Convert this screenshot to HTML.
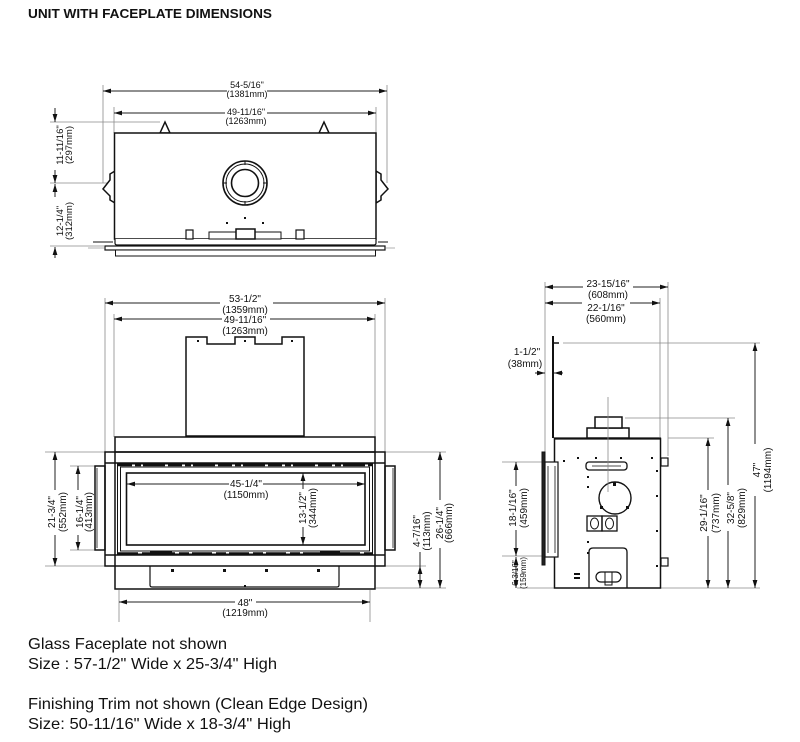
<!DOCTYPE html>
<html><head><meta charset="utf-8">
<style>
html,body{margin:0;padding:0;background:#fff;}
svg{display:block;}
text{font-family:"Liberation Sans",Arial,sans-serif;fill:#111;}
</style></head><body>
<svg width="800" height="742" viewBox="0 0 800 742" xmlns="http://www.w3.org/2000/svg">
<defs>
<marker id="a" markerUnits="userSpaceOnUse" markerWidth="8" markerHeight="6" refX="8" refY="3" orient="auto"><path d="M0,0.6 L8,3 L0,5.4z" fill="#111"/></marker>
</defs>
<rect width="800" height="742" fill="#fff"/>

<text x="28" y="18" font-size="13" font-weight="bold" textLength="244" lengthAdjust="spacingAndGlyphs">UNIT WITH FACEPLATE DIMENSIONS</text>

<!-- ================= TOP VIEW ================= -->
<g stroke="#8a8a8a" stroke-width="0.8" fill="none">
<path d="M103,85 V183 M387,85 V183 M114,107 V133 M376,107 V133 M50,122 H160 M50,183 H240 M50,246 H104"/>
</g>
<g stroke="#222" stroke-width="1" fill="none" marker-end="url(#a)">
<path d="M227,91 H103"/><path d="M267,91 H387"/>
<path d="M225,113 H114"/><path d="M267,113 H376"/>
<path d="M55,108 V122"/><path d="M55,170 V183"/><path d="M55,197 V184"/><path d="M55,258 V247"/>
</g>
<g font-size="9" text-anchor="middle">
<text x="247" y="88">54-5/16"</text>
<text x="247" y="97">(1381mm)</text>
<text x="246" y="115">49-11/16"</text>
<text x="246" y="124">(1263mm)</text>
</g>
<g font-size="9.5" text-anchor="middle">
<text transform="translate(63,145) rotate(-90)">11-11/16"</text>
<text transform="translate(72,145) rotate(-90)">(297mm)</text>
<text transform="translate(63,221) rotate(-90)">12-1/4"</text>
<text transform="translate(72,221) rotate(-90)">(312mm)</text>
</g>
<g stroke="#111" fill="#fff" stroke-width="1.5">
<polygon points="160,133 165,122 170,133"/>
<polygon points="319,133 324,122 329,133"/>
<polygon points="115,171 110,174 110,180 103,189 110,196 110,200 115,203"/>
<polygon points="376,171 381,174 381,180 388,189 381,196 381,200 376,203"/>
<rect x="114.5" y="133" width="261.5" height="106"/>
<path d="M115,239 V243 Q115,245 117,245 H374 Q376,245 376,243 V239" stroke-width="1.2"/>
<rect x="105" y="246" width="280" height="4" stroke-width="1.2"/>
<rect x="115.5" y="250" width="260" height="6" stroke-width="1"/>
<circle cx="245" cy="183" r="22" stroke-width="1.6"/>
<circle cx="245" cy="183" r="19" stroke-width="1"/>
<circle cx="245" cy="183" r="13.5" stroke-width="1.6"/>
<rect x="186" y="230" width="7" height="9" stroke-width="1.2"/>
<rect x="296" y="230" width="8" height="9" stroke-width="1.2"/>
<rect x="209" y="232" width="72" height="7" stroke-width="1"/>
<rect x="236" y="229" width="19" height="10" stroke-width="1.5"/>
</g>
<g stroke="#111" stroke-width="1">
<path d="M93,242 H113 M378,242 H388"/>
<path d="M245,161 V165 M245,201 V205 M223,183 H227 M263,183 H267"/>
</g>
<path d="M88,248 H104 M386,248 H395" stroke="#999" stroke-width="0.8"/>
<g fill="#111">
<rect x="226" y="222" width="2" height="2"/><rect x="244" y="217" width="2" height="2"/><rect x="262" y="222" width="2" height="2"/>
</g>

<!-- ================= FRONT VIEW ================= -->
<g stroke="#8a8a8a" stroke-width="0.8" fill="none">
<path d="M105,298 V452 M114,314 V437 M375,314 V437 M385,298 V452 M45,452 H105 M45,566 H105 M70,466 H95 M70,550 H95 M385,452 H446 M376,588 H446 M385,566 H426 M119,590 V622 M370,590 V622"/>
</g>
<g stroke="#222" stroke-width="1" fill="none" marker-end="url(#a)">
<path d="M220,303 H105"/><path d="M273,303 H385"/>
<path d="M222,319 H114"/><path d="M270,319 H375"/>
<path d="M229,484 H127"/><path d="M263,484 H365"/>
<path d="M303,489 V473"/><path d="M303,527 V545"/>
<path d="M235,602 H119"/><path d="M256,602 H370"/>
<path d="M55,490 V452"/><path d="M55,535 V566"/>
<path d="M78,490 V466"/><path d="M78,535 V550"/>
<path d="M440,500 V452"/><path d="M440,548 V588"/>
<path d="M420,578 V566"/><path d="M420,576 V588"/>
</g>
<path d="M420,552 V566" stroke="#222" stroke-width="1"/>
<g font-size="10" text-anchor="middle">
<text x="245" y="302">53-1/2"</text>
<text x="245" y="313">(1359mm)</text>
<text x="245" y="323">49-11/16"</text>
<text x="245" y="334">(1263mm)</text>
<text x="246" y="487">45-1/4"</text>
<text x="246" y="498">(1150mm)</text>
<text x="245" y="606">48"</text>
<text x="245" y="616">(1219mm)</text>
<text transform="translate(306,508) rotate(-90)">13-1/2"</text>
<text transform="translate(316,508) rotate(-90)">(344mm)</text>
<text transform="translate(55,512) rotate(-90)">21-3/4"</text>
<text transform="translate(66,512) rotate(-90)">(552mm)</text>
<text transform="translate(83,512) rotate(-90)">16-1/4"</text>
<text transform="translate(92,512) rotate(-90)">(413mm)</text>
<text transform="translate(443,523) rotate(-90)">26-1/4"</text>
<text transform="translate(452,523) rotate(-90)">(666mm)</text>
<text transform="translate(420,531) rotate(-90)">4-7/16"</text>
<text transform="translate(430,531) rotate(-90)">(113mm)</text>
</g>
<g stroke="#111" fill="none" stroke-width="1.5">
<polygon points="186,337 207,337 207,344 235,344 235,337 255,337 255,344 282,344 282,337 304,337 304,436 186,436" fill="#fff"/>
<rect x="115" y="437" width="260" height="15"/>
<rect x="105" y="452" width="280" height="114"/>
<path d="M105,463 H385 M105,555 H385 M115,452 V566 M375,452 V566"/>
<rect x="117.5" y="464" width="255" height="90" stroke-width="1"/>
<rect x="120.5" y="467" width="249" height="84" stroke-width="1"/>
<rect x="126.5" y="473" width="238.5" height="72" stroke-width="1.6"/>
<rect x="95" y="466" width="10" height="84"/>
<rect x="385" y="466" width="10" height="84"/>
<path d="M115,566 V589 H375 V566"/>
<path d="M150,566 V585 Q150,587 152,587 H337 Q339,587 339,585 V566" stroke-width="1.2"/>
</g>
<path d="M118,465 H372" stroke="#111" stroke-width="2.5" stroke-dasharray="14 3 6 2 22 3"/>
<path d="M118,553 H372" stroke="#111" stroke-width="1.5" stroke-dasharray="20 4 10 3"/>
<path d="M97,468 V548 M393,468 V548" stroke="#111" stroke-width="0.8"/>
<path d="M150,552 H172 M320,552 H340" stroke="#111" stroke-width="3"/>
<g fill="#111">
<rect x="197" y="340" width="2" height="2"/><rect x="244" y="340" width="2" height="2"/><rect x="291" y="340" width="2" height="2"/>
<rect x="171" y="569" width="3" height="3"/><rect x="223" y="569" width="3" height="3"/><rect x="265" y="569" width="3" height="3"/><rect x="317" y="569" width="3" height="3"/>
<rect x="244" y="585" width="2" height="2"/>
</g>

<!-- ================= SIDE VIEW ================= -->
<g stroke="#8a8a8a" stroke-width="0.8" fill="none">
<path d="M545,282 V452 M668,282 V456 M660,298 V437 M502,462 H545 M502,556 H545 M517,588 H760 M563,343 H760 M625,418 H735 M668,438 H714"/>
</g>
<g stroke="#222" stroke-width="1" fill="none" marker-end="url(#a)">
<path d="M583,287 H545"/><path d="M633,287 H668"/>
<path d="M582,303 H545"/><path d="M630,303 H660"/>
<path d="M535,373 H545"/><path d="M563,373 H554"/>
<path d="M755,444 V343"/><path d="M755,496 V588"/>
<path d="M728,485 V418"/><path d="M728,531 V588"/>
<path d="M708,490 V438"/><path d="M708,536 V588"/>
<path d="M516,486 V462"/><path d="M516,530 V556"/>
<path d="M516,572 V557"/><path d="M516,572 V588"/>
</g>
<g font-size="10" text-anchor="middle">
<text x="608" y="287">23-15/16"</text>
<text x="608" y="298">(608mm)</text>
<text x="606" y="311">22-1/16"</text>
<text x="606" y="322">(560mm)</text>
<text x="527" y="355">1-1/2"</text>
<text x="525" y="367">(38mm)</text>
<text transform="translate(760,470) rotate(-90)">47"</text>
<text transform="translate(771,470) rotate(-90)">(1194mm)</text>
<text transform="translate(734,508) rotate(-90)">32-5/8"</text>
<text transform="translate(745,508) rotate(-90)">(829mm)</text>
<text transform="translate(707,513) rotate(-90)">29-1/16"</text>
<text transform="translate(719,513) rotate(-90)">(737mm)</text>
<text transform="translate(516,508) rotate(-90)">18-1/16"</text>
<text transform="translate(527,508) rotate(-90)">(459mm)</text>
</g>
<g font-size="8" text-anchor="middle">
<text transform="translate(518,573) rotate(-90)">6-3/16"</text>
<text transform="translate(526,573) rotate(-90)">(159mm)</text>
</g>
<g stroke="#111" fill="none" stroke-width="1.5">
<path d="M553,336 V438" stroke-width="2"/>
<path d="M553,343 H559"/>
<rect x="554.5" y="438.5" width="106" height="149.5" fill="#fff"/>
<path d="M554,438.5 H661" stroke-width="2.2"/>
<rect x="587" y="428" width="42" height="10" fill="#fff"/>
<rect x="595" y="417" width="27" height="11" fill="#fff"/>
<rect x="542" y="452" width="3" height="113" fill="#222" stroke-width="1"/>
<rect x="545" y="462" width="13" height="95" stroke-width="1.2" fill="#fff"/>
<path d="M548,466 V553 M555,466 V553" stroke-width="0.8"/>
<rect x="661" y="458" width="7" height="8" stroke-width="1.2"/>
<rect x="661" y="558" width="7" height="8" stroke-width="1.2"/>
<rect x="586" y="462" width="41" height="8" rx="3" stroke-width="1.3"/>
<path d="M592,466 H621" stroke-width="0.8"/>
<circle cx="615" cy="498" r="16" stroke-width="1.4"/>
<rect x="587" y="516" width="15" height="15" stroke-width="1.3"/>
<rect x="602" y="516" width="15" height="15" stroke-width="1.3"/>
<ellipse cx="594.5" cy="523.5" rx="4" ry="5.5" stroke-width="1"/>
<ellipse cx="609.5" cy="523.5" rx="4" ry="5.5" stroke-width="1"/>
<path d="M589,588 V552 Q589,548 593,548 H623 Q627,548 627,552 V588" stroke-width="1.3"/>
<rect x="596" y="572" width="25" height="10" rx="5" stroke-width="1.2"/>
<path d="M605,572 V585 H612 V572" stroke-width="1"/>
</g>
<path d="M608,397 V492" stroke="#8a8a8a" stroke-width="0.8"/>
<g fill="#111">
<rect x="613" y="482" width="3" height="4"/><rect x="600" y="506" width="3" height="3"/><rect x="626" y="506" width="3" height="3"/>
<rect x="574" y="573" width="6" height="2"/><rect x="574" y="577" width="6" height="2"/>
<rect x="563" y="460" width="2" height="2"/><rect x="577" y="457" width="2" height="2"/><rect x="595" y="457" width="2" height="2"/><rect x="620" y="457" width="2" height="2"/><rect x="651" y="457" width="2" height="2"/>
<rect x="587" y="476" width="2" height="2"/><rect x="587" y="486" width="2" height="2"/><rect x="587" y="541" width="2" height="2"/><rect x="587" y="552" width="2" height="2"/>
<rect x="656" y="470" width="2" height="2"/><rect x="656" y="495" width="2" height="2"/><rect x="656" y="530" width="2" height="2"/><rect x="656" y="565" width="2" height="2"/>
</g>

<!-- ================= NOTES ================= -->
<g font-size="16">
<text x="28" y="649" textLength="199" lengthAdjust="spacingAndGlyphs">Glass Faceplate not shown</text>
<text x="28" y="669" textLength="249" lengthAdjust="spacingAndGlyphs">Size : 57-1/2" Wide x 25-3/4" High</text>
<text x="28" y="709" textLength="340" lengthAdjust="spacingAndGlyphs">Finishing Trim not shown (Clean Edge Design)</text>
<text x="28" y="729" textLength="263" lengthAdjust="spacingAndGlyphs">Size: 50-11/16" Wide x 18-3/4" High</text>
</g>
</svg>
</body></html>
